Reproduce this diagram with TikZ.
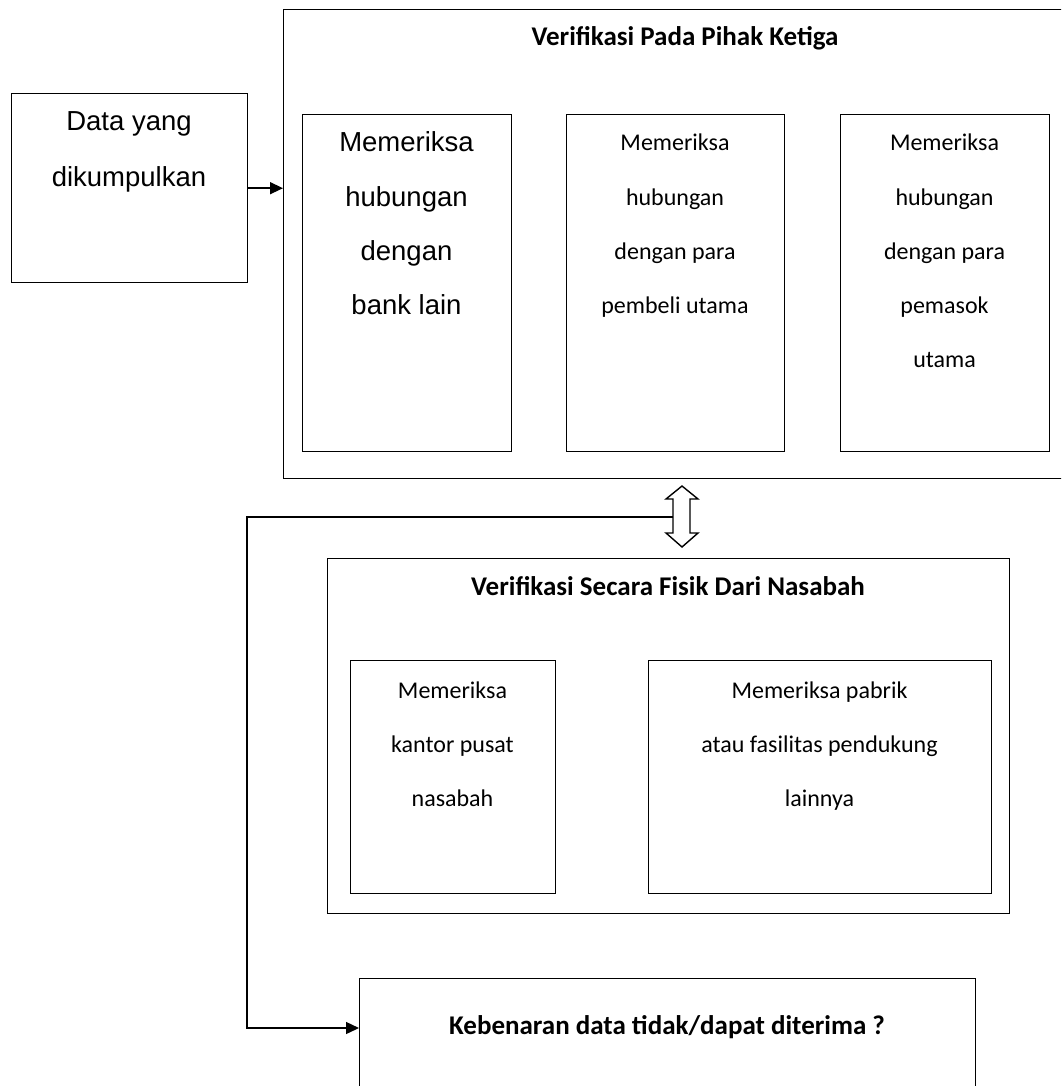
\documentclass[tikz,border=0pt]{standalone}
\usepackage{fontspec}
\usetikzlibrary{arrows.meta,calc}
\newfontfamily\arialf{Liberation Sans}
\newfontfamily\calibf{Carlito}
\newcommand{\txtlines}[6]{%
  \foreach \ln [count=\i] in {#6} {%
    \node[anchor=base, inner sep=0pt, font=#2] (#1-\i) at (#3, {#4+(\i-1)*#5}) {\ln};}}
\begin{document}
\begin{tikzpicture}[x=1pt,y=-1pt,
  box/.style={draw, line width=1.4pt, anchor=north west, inner sep=0pt, minimum width=#1},
  arr/.style={line width=1.4pt, -{Triangle[length=13pt,width=12pt]}},
  ]
\clip (0,0) rectangle (1061,1086);
\fill[white] (0,0) rectangle (1061,1086);
% boxes
\node[box=236pt, minimum height=189pt] (data) at (11,93) {};
\node[box=804pt, minimum height=469pt] (big) at (283,9) {};
\node[box=209pt, minimum height=337pt] (b1) at (302,114) {};
\node[box=218pt, minimum height=337pt] (b2) at (566,114) {};
\node[box=209pt, minimum height=337pt] (b3) at (840,114) {};
\node[box=682pt, minimum height=355pt] (sec) at (327,558) {};
\node[box=205pt, minimum height=233pt] (s1) at (350,660) {};
\node[box=343pt, minimum height=233pt] (s2) at (648,660) {};
\node[box=616pt, minimum height=160pt] (bot) at (359,978) {};
% texts
\def\af{\arialf\fontsize{27.5}{32}\selectfont}
\def\cf{\calibf\fontsize{24}{29}\selectfont}
\def\tf{\calibf\bfseries\fontsize{27}{32}\selectfont}
\txtlines{dt}{\af}{129}{131}{55}{Data yang,dikumpulkan}
\txtlines{t1}{\af}{406.5}{152}{54}{Memeriksa,hubungan,dengan,bank lain}
\txtlines{t2}{\cf}{675}{151}{54}{Memeriksa,hubungan,dengan para,pembeli utama}
\txtlines{t3}{\cf}{944.5}{151}{54}{Memeriksa,hubungan,dengan para,pemasok,utama}
\txtlines{u1}{\cf}{452.5}{698}{54}{Memeriksa,kantor pusat,nasabah}
\txtlines{u2}{\cf}{819.5}{698}{54}{Memeriksa pabrik,atau fasilitas pendukung,lainnya}
\node[anchor=base, inner sep=0pt, font=\tf] (bigt) at (685,46) {Verifikasi Pada Pihak Ketiga};
\node[anchor=base, inner sep=0pt, font=\tf] (sect) at (668,595) {Verifikasi Secara Fisik Dari Nasabah};
\node[anchor=base, inner sep=0pt, font=\tf] (bott) at (667,1034) {Kebenaran data tidak/dapat diterima ?};
% connectors
\draw[arr] (data.east) -- (data.east -| big.west);
\draw[line width=1.4pt, fill=white, line join=miter]
  (682,486) -- (698,499) -- (690,499) -- (690,533) -- (698,533) -- (682,547)
  -- (666,533) -- (673,533) -- (673,499) -- (666,499) -- cycle;
\coordinate (dl) at (673,517);
\coordinate (cn) at (247,517);
\coordinate (bin) at (bot.west |- 0,1028);
\draw[arr] (dl) -- (cn) |- (bin);
\end{tikzpicture}
\end{document}
